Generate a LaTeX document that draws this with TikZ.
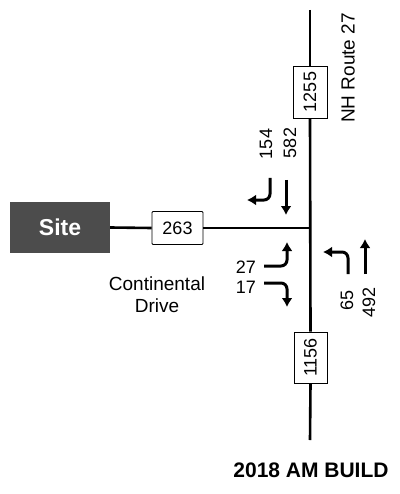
\documentclass[tikz,border=0pt]{standalone}
\usepackage{fontspec}
\setmainfont{Liberation Sans}
\usetikzlibrary{arrows.meta}
\tikzset{
  road/.style={line width=2.6pt},
  volbox/.style={draw, line width=0.8pt, inner sep=0pt, font=\fontsize{18}{18}\selectfont},
  vol/.style={font=\fontsize{18}{18}\selectfont, inner sep=0pt},
  lbl/.style={font=\fontsize{19}{22}\selectfont, inner sep=0pt, align=center},
  mv/.style={line width=3pt, -{Latex[length=9pt,width=11pt]}, rounded corners=6pt},
}
\begin{document}
\begin{tikzpicture}[x=1pt,y=-1pt]
\useasboundingbox (0,0) rectangle (399,494);
% site
\node[fill=black!70, minimum width=100pt, minimum height=51pt, inner sep=0pt, text=white, font=\bfseries\fontsize{23}{23}\selectfont] (site) at (60,227.5) {Site};
\node[volbox, minimum width=51pt, minimum height=33pt, rounded corners=1pt] (b263) at (177.5,228) {263};
\node[volbox, rotate=90, minimum width=52pt, minimum height=34pt] (b1255) at (310,92) {1255};
\node[volbox, rotate=90, minimum width=51pt, minimum height=33pt] (b1156) at (310.5,357.5) {1156};
\coordinate (top) at (310,10);
\coordinate (bot) at (310,440);
\coordinate (jct) at (310,228);
% roads
\draw[road] (top) -- (b1255.east);
\draw[road] (b1255.west) -- (b1156.east);
\draw[road] (b1156.west) -- (bot);
\draw[road] (site.east) -- (b263.west);
\draw[road] (b263.east) -- (jct);
% labels
\node[lbl, rotate=90] (nh) at (348,68) {NH Route 27};
\node[lbl] (cd) at (157,295) {Continental\\Drive};
\node[font=\bfseries\fontsize{21}{21}\selectfont, inner sep=0pt] (title) at (311,470) {2018 AM BUILD};
% volumes
\node[vol, rotate=90] (v154) at (266,144) {154};
\node[vol, rotate=90] (v582) at (290,143) {582};
\node[vol, anchor=east] (v27) at (256,267) {27};
\node[vol, anchor=east] (v17) at (256,287) {17};
\node[vol, rotate=90] (v65) at (347,300) {65};
\node[vol, rotate=90] (v492) at (369,302) {492};
% movement arrows
\coordinate (sbr0) at (270,178); \coordinate (sbr1) at (270,200); \coordinate (sbr2) at (247,200);
\draw[mv] (sbr0) -- (sbr1) -- (sbr2);
\coordinate (sbt0) at (286,180); \coordinate (sbt1) at (286,215);
\draw[mv] (sbt0) -- (sbt1);
\coordinate (ebl0) at (264,266); \coordinate (ebl1) at (287,266); \coordinate (ebl2) at (287,242);
\draw[mv] (ebl0) -- (ebl1) -- (ebl2);
\coordinate (ebr0) at (264,283); \coordinate (ebr1) at (287,283); \coordinate (ebr2) at (287,307);
\draw[mv] (ebr0) -- (ebr1) -- (ebr2);
\coordinate (nbl0) at (348,274); \coordinate (nbl1) at (348,252); \coordinate (nbl2) at (323,252);
\draw[mv] (nbl0) -- (nbl1) -- (nbl2);
\coordinate (nbt0) at (365,274); \coordinate (nbt1) at (365,239);
\draw[mv] (nbt0) -- (nbt1);
\end{tikzpicture}
\end{document}
